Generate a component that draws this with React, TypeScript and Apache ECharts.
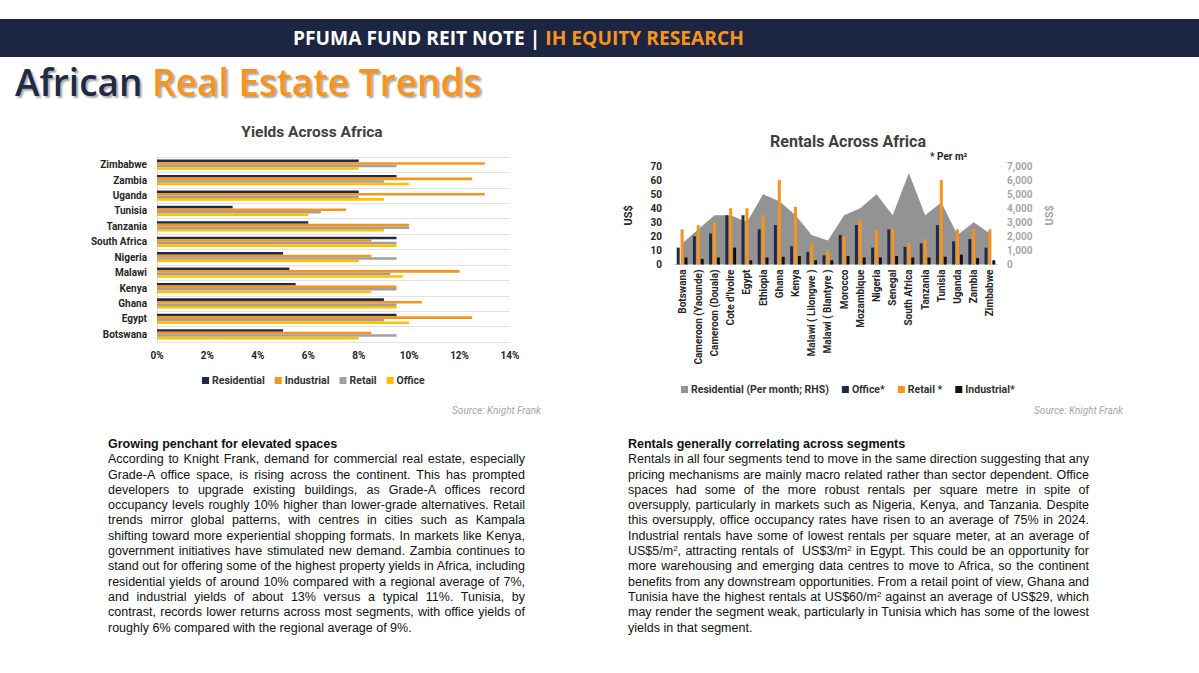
import React, { useEffect, useRef } from "react";
import * as echarts from "echarts";

// ---------- Yields Across Africa ----------
const yieldCountries = ["Botswana", "Egypt", "Ghana", "Kenya", "Malawi", "Nigeria", "South Africa", "Tanzania", "Tunisia", "Uganda", "Zambia", "Zimbabwe"];
const yieldResidential = [5, 9.5, 9, 5.5, 5.25, 5, 9.5, 6, 3, 8, 9.5, 8];
const yieldIndustrial = [8.5, 12.5, 10.5, 9.5, 12, 8.5, 8.5, 10, 7.5, 13, 12.5, 13];
const yieldRetail = [9.5, 9, 9.5, 9.5, 9.25, 9.5, 9.5, 10, 6.5, 8, 9, 9.5];
const yieldOffice = [8, 10, 9.5, 8.5, 9.75, 8, 9.5, 9, 6, 9, 10, 8];
const yieldLegend = ["Residential", "Industrial", "Retail", "Office"];

// ---------- Rentals Across Africa ----------
const rentalMarkets = ["Botswana", "Cameroon (Yaounde)", "Cameroon (Douala)", "Cote d'Ivoire", "Egypt", "Ethiopia", "Ghana", "Kenya", "Malawi ( Lilongwe )", "Malawi ( Blantyre )", "Morocco", "Mozambique", "Nigeria", "Senegal", "South Africa", "Tanzania", "Tunisia", "Uganda", "Zambia", "Zimbabwe"];
const rentResidential = [1500, 2500, 3500, 3500, 3000, 5000, 4500, 3500, 2100, 1700, 3500, 4000, 5000, 3500, 6500, 3500, 4400, 2100, 3000, 2200];
const rentOffice = [12, 20, 22, 35, 35, 25, 28, 13, 9, 6.5, 21, 28, 12, 25, 12.5, 15, 28, 16.5, 18, 12];
const rentRetail = [25, 28, 30, 40, 40, 35, 60, 41, 15, 10, 20, 32, 25, 25, 15, 18, 60, 25, 25, 25];
const rentIndustrial = [5, 4, 5, 12, 3, 5, 5.5, 6, 3, 3, 6, 5, 5, 6, 5, 5, 5.5, 7, 4.5, 3];
const rentLegend = ["Residential (Per month; RHS)", "Office*", "Retail *", "Industrial*"];

const NAVY = "#1f2a44";
const ORANGE = "#f7941d";
const GRAY = "#a0a0a0";
const YELLOW = "#ffc000";
const AREA = "#939393";
const FONT = "Roboto, 'Noto Sans', sans-serif";

const leftLines = [
  "According to Knight Frank, demand for commercial real estate, especially",
  "Grade-A office space, is rising across the continent. This has prompted",
  "developers to upgrade existing buildings, as Grade-A offices record",
  "occupancy levels roughly 10% higher than lower-grade alternatives. Retail",
  "trends mirror global patterns, with centres in cities such as Kampala",
  "shifting toward more experiential shopping formats. In markets like Kenya,",
  "government initiatives have stimulated new demand. Zambia continues to",
  "stand out for offering some of the highest property yields in Africa, including",
  "residential yields of around 10% compared with a regional average of 7%,",
  "and industrial yields of about 13% versus a typical 11%. Tunisia, by",
  "contrast, records lower returns across most segments, with office yields of",
  "roughly 6% compared with the regional average of 9%.",
];

const rightLines: (string | string[])[] = [
  "Rentals in all four segments tend to move in the same direction suggesting that any",
  "pricing mechanisms are mainly macro related rather than sector dependent. Office",
  "spaces had some of the more robust rentals per square metre in spite of",
  "oversupply, particularly in markets such as Nigeria, Kenya, and Tanzania. Despite",
  "this oversupply, office occupancy rates have risen to an average of 75% in 2024.",
  "Industrial rentals have some of lowest rentals per square meter, at an average of",
  ["US$5/m", "2", ", attracting rentals of \u00a0US$3/m", "2", " in Egypt. This could be an opportunity for"],
  "more warehousing and emerging data centres to move to Africa, so the continent",
  "benefits from any downstream opportunities. From a retail point of view, Ghana and",
  ["Tunisia have the highest rentals at US$60/m", "2", " against an average of US$29, which"],
  "may render the segment weak, particularly in Tunisia which has some of the lowest",
  "yields in that segment.",
];

function renderLine(l: string | string[]) {
  if (typeof l === "string") return l;
  return l.map((p, i) =>
    i % 2 === 1 ? (
      <sup key={i} style={{ fontSize: 8, lineHeight: 0, verticalAlign: "4px" }}>{p}</sup>
    ) : (
      <span key={i}>{p}</span>
    )
  );
}

function Paragraph({ left, top, width, heading, lines }: { left: number; top: number; width: number; heading: string; lines: (string | string[])[] }) {
  return (
    <div style={{ position: "absolute", left, top, width, fontFamily: "'Liberation Sans', Arial, sans-serif", fontSize: 12.5, lineHeight: "15.3px", color: "#111" }}>
      <div style={{ fontWeight: "bold" }}>{heading}</div>
      {lines.map((l, i) => (
        <div
          key={i}
          style={{
            textAlign: "justify",
            textAlignLast: i === lines.length - 1 ? "left" : "justify",
            whiteSpace: "nowrap",
          }}
        >
          {renderLine(l)}
        </div>
      ))}
    </div>
  );
}

export default function App() {
  const ref = useRef<HTMLDivElement>(null);

  useEffect(() => {
    if (!ref.current) return;
    const chart = echarts.init(ref.current, undefined, { renderer: "svg" });
    const axisLabelBold = { fontFamily: FONT, fontWeight: "bold" as const, fontSize: 10, color: "#262626" };
    chart.setOption({
      animation: false,
      textStyle: { fontFamily: FONT },
      title: [
        { text: "Yields Across Africa", left: 307, top: 119, textAlign: "center", textStyle: { fontFamily: FONT, fontSize: 15.5, fontWeight: "bold", color: "#404040" } },
        { text: "Rentals Across Africa", left: 843, top: 128, textAlign: "center", textStyle: { fontFamily: FONT, fontSize: 16, fontWeight: "bold", color: "#404040" } },
      ],
      legend: [
        {
          data: yieldLegend,
          left: 197,
          top: 370,
          icon: "rect",
          itemWidth: 7,
          itemHeight: 7,
          itemGap: 10,
          textStyle: { fontFamily: FONT, fontSize: 10.5, fontWeight: "bold", color: "#333", padding: [0, 0, 0, -2] },
        },
        {
          data: rentLegend,
          left: 676,
          top: 379,
          icon: "rect",
          itemWidth: 7,
          itemHeight: 7,
          itemGap: 13,
          textStyle: { fontFamily: FONT, fontSize: 10.5, fontWeight: "bold", color: "#333", padding: [0, 0, 0, -2] },
        },
      ],
      grid: [
        { left: 157, width: 353, top: 157, height: 185, containLabel: false },
        { left: 674, width: 324, top: 166, height: 98.5, containLabel: false },
      ],
      xAxis: [
        {
          type: "value",
          gridIndex: 0,
          min: 0,
          max: 14,
          interval: 2,
          axisLine: { show: false },
          axisTick: { show: false },
          splitLine: { show: false },
          axisLabel: { ...axisLabelBold, formatter: "{value}%", margin: 8 },
        },
        {
          type: "category",
          gridIndex: 1,
          data: rentalMarkets,
          axisLine: { show: true, lineStyle: { color: "#d9d9d9" } },
          axisTick: { show: false },
          axisLabel: { ...axisLabelBold, rotate: 90, interval: 0, margin: 5 },
        },
      ],
      yAxis: [
        {
          type: "category",
          gridIndex: 0,
          data: yieldCountries,
          axisLine: { show: true, lineStyle: { color: "#d9d9d9" } },
          axisTick: { show: false },
          splitLine: { show: true, lineStyle: { color: "#e3e3e3" } },
          axisLabel: { ...axisLabelBold, margin: 10 },
        },
        {
          type: "value",
          gridIndex: 1,
          min: 0,
          max: 70,
          interval: 10,
          name: "US$",
          nameLocation: "middle",
          nameGap: 40,
          nameTextStyle: { fontFamily: FONT, fontSize: 11, fontWeight: "bold", color: "#262626" },
          axisLine: { show: false },
          axisTick: { show: false },
          splitLine: { show: false },
          axisLabel: { ...axisLabelBold, margin: 12 },
        },
        {
          type: "value",
          gridIndex: 1,
          position: "right",
          min: 0,
          max: 7000,
          interval: 1000,
          name: "US$",
          nameLocation: "middle",
          nameGap: 46,
          nameTextStyle: { fontFamily: FONT, fontSize: 11, fontWeight: "bold", color: "#a6a6a6" },
          axisLine: { show: false },
          axisTick: { show: false },
          splitLine: { show: false },
          axisLabel: { ...axisLabelBold, color: "#a6a6a6", margin: 9, formatter: (v: number) => v.toLocaleString("en-US") },
        },
      ],
      series: [
        { name: "Residential", type: "bar", xAxisIndex: 0, yAxisIndex: 0, data: yieldResidential, itemStyle: { color: NAVY }, barGap: "0%", barCategoryGap: "33%" },
        { name: "Industrial", type: "bar", xAxisIndex: 0, yAxisIndex: 0, data: yieldIndustrial, itemStyle: { color: ORANGE } },
        { name: "Retail", type: "bar", xAxisIndex: 0, yAxisIndex: 0, data: yieldRetail, itemStyle: { color: GRAY } },
        { name: "Office", type: "bar", xAxisIndex: 0, yAxisIndex: 0, data: yieldOffice, itemStyle: { color: YELLOW } },
        {
          name: "Residential (Per month; RHS)",
          type: "line",
          xAxisIndex: 1,
          yAxisIndex: 2,
          data: rentResidential,
          symbol: "none",
          lineStyle: { width: 0, color: AREA },
          itemStyle: { color: AREA },
          areaStyle: { color: AREA, opacity: 1 },
          z: 1,
        },
        { name: "Office*", type: "bar", xAxisIndex: 1, yAxisIndex: 1, data: rentOffice, itemStyle: { color: NAVY }, barWidth: 3, barGap: "30%", z: 3 },
        { name: "Retail *", type: "bar", xAxisIndex: 1, yAxisIndex: 1, data: rentRetail, itemStyle: { color: ORANGE }, barWidth: 3, z: 3 },
        { name: "Industrial*", type: "bar", xAxisIndex: 1, yAxisIndex: 1, data: rentIndustrial, itemStyle: { color: "#111111" }, barWidth: 3, z: 3 },
      ],
      graphic: [
        { type: "text", left: 930, top: 151, style: { text: "* Per m\u00b2", font: `bold 10px ${FONT}`, fill: "#262626" } },
        { type: "text", right: 1199 - 541, top: 405, style: { text: "Source: Knight Frank", font: `italic 10px ${FONT}`, fill: "#a6a6a6" } },
        { type: "text", right: 1199 - 1123, top: 405, style: { text: "Source: Knight Frank", font: `italic 10px ${FONT}`, fill: "#a6a6a6" } },
      ],
    });
    return () => chart.dispose();
  }, []);

  return (
    <div style={{ position: "absolute", left: 0, top: 0, width: 1199, height: 673, background: "#fff", overflow: "hidden" }}>
      <div style={{ position: "absolute", left: 0, top: 19, width: 1199, height: 38, background: "#1c2541" }} />
      <div style={{ position: "absolute", left: 293, top: 19, height: 38, lineHeight: "38px", fontFamily: "'Open Sans', sans-serif", fontWeight: 700, fontSize: 19.2, color: "#fff", whiteSpace: "nowrap" }}>
        PFUMA FUND REIT NOTE | <span style={{ color: ORANGE }}>IH EQUITY RESEARCH</span>
      </div>
      <div style={{ position: "absolute", left: 15, top: 57, fontFamily: "'Open Sans', sans-serif", fontWeight: 600, fontSize: 37, lineHeight: "50px", color: NAVY, whiteSpace: "nowrap", textShadow: "2px 2px 2px rgba(0,0,0,0.35)" }}>
        African <span style={{ color: ORANGE }}>Real Estate Trends</span>
      </div>
      <div ref={ref} style={{ position: "absolute", left: 0, top: 0, width: 1199, height: 673 }} />
      <Paragraph left={108} top={437} width={417} heading="Growing penchant for elevated spaces" lines={leftLines} />
      <Paragraph left={628} top={437} width={461} heading="Rentals generally correlating across segments" lines={rightLines} />
    </div>
  );
}
